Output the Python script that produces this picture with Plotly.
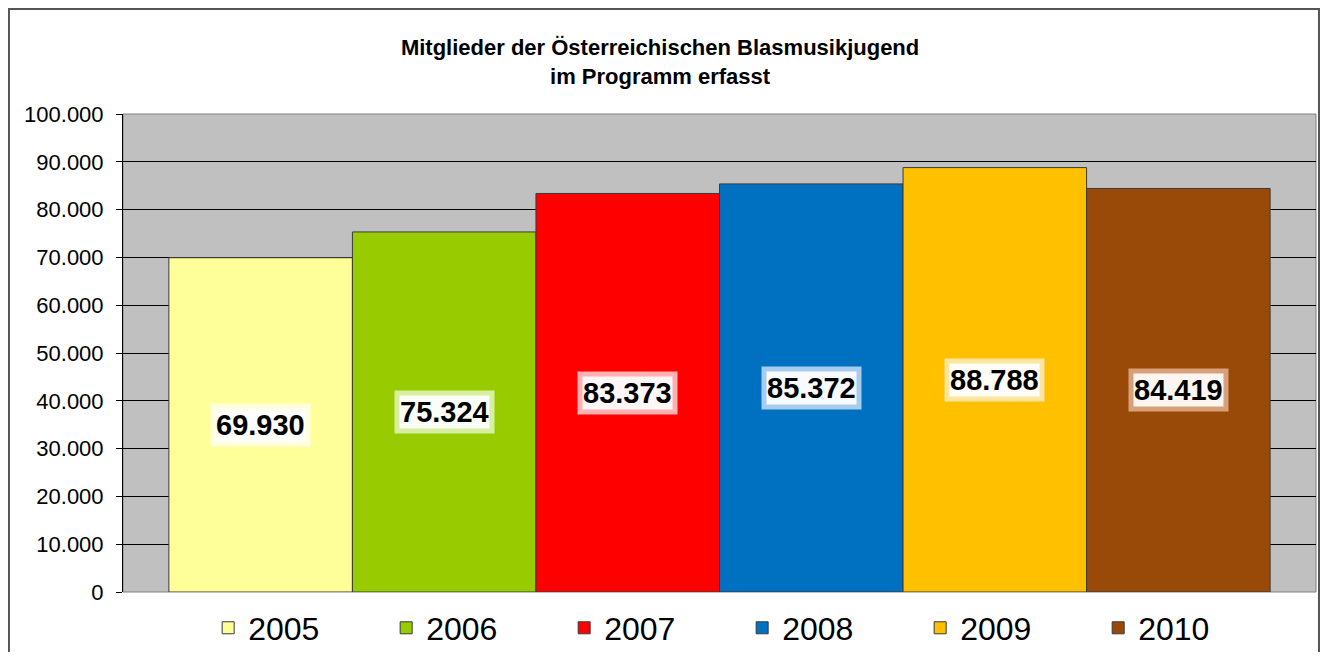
import plotly.graph_objects as go

# Mitglieder der Österreichischen Blasmusikjugend
years = ["2005", "2006", "2007", "2008", "2009", "2010"]
members = [69930, 75324, 83373, 85372, 88788, 84419]
colors = ["#FFFF99", "#99CC00", "#FF0000", "#0070C0", "#FFC000", "#9A4A08"]
# lighter shade used behind the data labels (fake gradient)
label_halo = ["#FFFFDD", "#D8EEA0", "#FFB0B0", "#A8CCEE", "#FFE6A0", "#D8A078"]

title = "<b>Mitglieder der Österreichischen Blasmusikjugend<br>im Programm erfasst</b>"

fig = go.Figure()

for i, (yr, val, col) in enumerate(zip(years, members, colors)):
    fig.add_trace(go.Bar(
        x=[i], y=[val], name=yr, width=1,
        marker=dict(color=col, line=dict(color="#3a3a3a", width=1)),
        hoverinfo="y+name",
    ))
    label = f"{val:,}".replace(",", ".")
    # outer halo then white core -> rough gradient behind the label
    fig.add_annotation(x=i, y=val / 2, text=f"<b>{label}</b>", showarrow=False,
                       font=dict(family="Liberation Sans", size=29, color="rgba(0,0,0,0)"),
                       bgcolor=label_halo[i], borderpad=5)
    fig.add_annotation(x=i, y=val / 2, text=f"<b>{label}</b>", showarrow=False,
                       font=dict(family="Liberation Sans", size=29, color="black"),
                       bgcolor="rgba(255,255,255,0.9)", borderpad=0)

# outer chart frame (page body adds 8px offset, so figure is slightly smaller)
fig.add_shape(type="rect", xref="paper", yref="paper",
              x0=-0.0956, x1=1.0025, y0=-0.15, y1=1.2197,
              line=dict(color="#555555", width=2), layer="below")

fig.update_layout(
    width=1312, height=644,
    margin=dict(l=115, r=4, t=106, b=60, autoexpand=False),
    paper_bgcolor="white",
    plot_bgcolor="#C0C0C0",
    separators=",.",
    barmode="overlay",
    showlegend=True,
    font=dict(family="Liberation Sans", color="black"),
    title=dict(text=title, x=0.497, xref="container", xanchor="center",
               y=0.927, yanchor="middle",
               font=dict(family="Liberation Sans", size=22, color="black")),
    legend=dict(orientation="h", x=0.519, xanchor="center",
                y=-0.0753, yanchor="middle",
                font=dict(size=32, family="Liberation Sans"),
                entrywidth=133, entrywidthmode="pixels", itemwidth=30,
                bgcolor="rgba(0,0,0,0)", tracegroupgap=0),
    xaxis=dict(range=[-0.75, 5.75], showticklabels=False, showgrid=False,
               zeroline=False, showline=False, fixedrange=True),
    yaxis=dict(range=[0, 100000], dtick=10000, tickformat=",d",
               showgrid=True, gridcolor="black", gridwidth=1,
               zeroline=False, showline=True, linecolor="black", linewidth=1,
               ticks="outside", ticklen=6, tickcolor="black", ticklabelstandoff=8,
               tickfont=dict(size=22, family="Liberation Sans"),
               mirror=False),
)

# thin grey border round the plot area
fig.add_shape(type="rect", xref="paper", yref="paper", x0=0, x1=1, y0=0, y1=1,
              line=dict(color="#808080", width=1), layer="below")

fig.write_html("out.html")
